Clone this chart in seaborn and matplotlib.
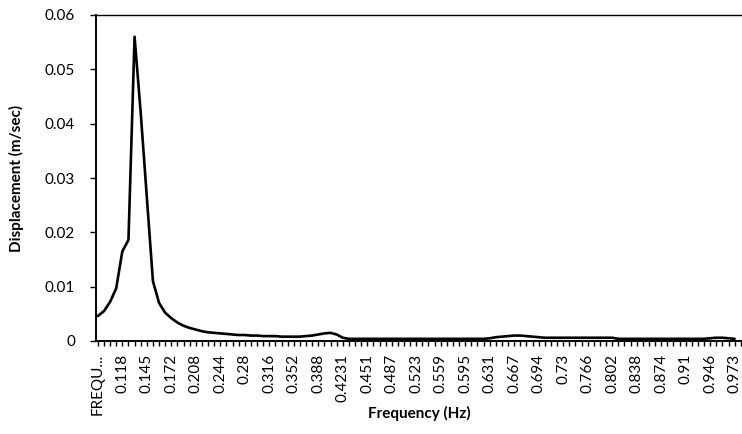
import numpy as np
import pandas as pd
import matplotlib
matplotlib.use("Agg")
import matplotlib.pyplot as plt
import seaborn as sns
from matplotlib.ticker import FixedLocator, FixedFormatter, MultipleLocator, FuncFormatter

# Category labels shown on the frequency axis (every 4th category is labelled)
freq_labels = ["FREQU...", "0.118", "0.145", "0.172", "0.208", "0.244", "0.28",
               "0.316", "0.352", "0.388", "0.4231", "0.451", "0.487", "0.523",
               "0.559", "0.595", "0.631", "0.667", "0.694", "0.73", "0.766",
               "0.802", "0.838", "0.874", "0.91", "0.946", "0.973"]
label_step = 4

# Spectral displacement amplitude per frequency category
displacement = [
    0.0046, 0.0055, 0.0072, 0.0097, 0.0165, 0.0186, 0.0560, 0.0420, 0.0265, 0.0110,
    0.0070, 0.0052, 0.0042, 0.0034, 0.0028, 0.0024, 0.0021, 0.0018, 0.0016, 0.0015,
    0.0014, 0.0013, 0.0012, 0.0011, 0.0011, 0.0010, 0.0010, 0.0009, 0.0009, 0.0009,
    0.0008, 0.0008, 0.0008, 0.0008, 0.0009, 0.0010, 0.0012, 0.0014, 0.0015, 0.0012,
    0.0006, 0.0004, 0.0004, 0.0004, 0.0004, 0.0004, 0.0004, 0.0004, 0.0004, 0.0004,
    0.0004, 0.0004, 0.0004, 0.0004, 0.0004, 0.0004, 0.0004, 0.0004, 0.0004, 0.0004,
    0.0004, 0.0004, 0.0004, 0.0004, 0.0005, 0.0007, 0.0008, 0.0009, 0.0010, 0.0010,
    0.0009, 0.0008, 0.0007, 0.0006, 0.0006, 0.0006, 0.0006, 0.0006, 0.0006, 0.0006,
    0.0006, 0.0006, 0.0006, 0.0006, 0.0006, 0.0004, 0.0004, 0.0004, 0.0004, 0.0004,
    0.0004, 0.0004, 0.0004, 0.0004, 0.0004, 0.0004, 0.0004, 0.0004, 0.0004, 0.0004,
    0.0005, 0.0006, 0.0006, 0.0005, 0.0004,
]

y_ticks = [0, 0.01, 0.02, 0.03, 0.04, 0.05, 0.06]

sns.set_theme(style="white")
plt.rcParams["font.family"] = ["Lato", "DejaVu Sans"]

df = pd.DataFrame({"category": np.arange(len(displacement)),
                   "displacement": displacement})

fig = plt.figure(figsize=(7.42, 4.34), dpi=100)
ax = fig.add_axes([96 / 742, 1 - 341 / 434, 646 / 742, 326 / 434])

sns.lineplot(data=df, x="category", y="displacement", ax=ax,
             color="black", linewidth=1.9)

ax.set_xlim(-0.3, 105.2)
ax.set_ylim(0, 0.06)

# x axis: a tick for every category, labels on every 4th
label_pos = [i * label_step for i in range(len(freq_labels))]
ax.xaxis.set_major_locator(FixedLocator(label_pos))
ax.xaxis.set_major_formatter(FixedFormatter(freq_labels))
ax.xaxis.set_minor_locator(MultipleLocator(1))
ax.tick_params(axis="x", which="both", direction="out", length=3.5, width=1.0,
               bottom=True, colors="black", labelsize=11, labelrotation=90, pad=6)

ax.yaxis.set_major_locator(FixedLocator(y_ticks))
ax.yaxis.set_major_formatter(FuncFormatter(lambda v, p: "0" if v == 0 else f"{v:.2f}"))
ax.tick_params(axis="y", which="major", direction="out", length=4, width=1.0,
               left=True, colors="black", labelsize=11, pad=11)

for side in ["left", "bottom"]:
    ax.spines[side].set_color("black")
    ax.spines[side].set_linewidth(1.4)
ax.spines["top"].set_color("black")
ax.spines["top"].set_linewidth(1.0)
ax.spines["right"].set_visible(False)

ax.set_xlabel("Frequency (Hz)", fontsize=11, fontweight="bold", color="black")
ax.set_ylabel("Displacement (m/sec)", fontsize=11, fontweight="bold", color="black")
ax.xaxis.set_label_coords(0.50, -0.20)
ax.yaxis.set_label_coords(-0.112, 0.5)

fig.savefig("out.png", dpi=100, facecolor="white")
